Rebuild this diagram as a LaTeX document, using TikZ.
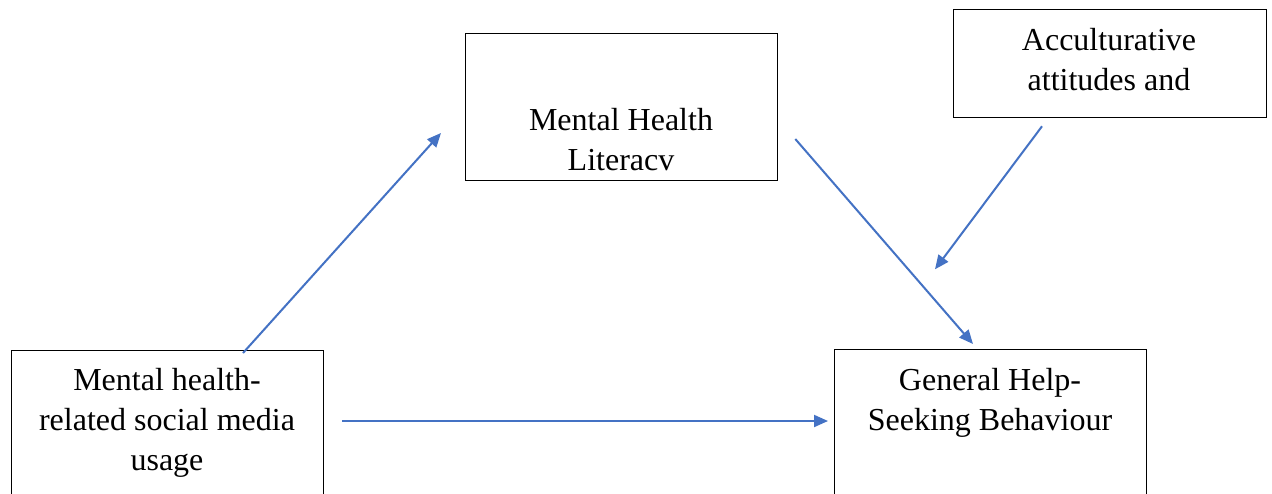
\documentclass[tikz,border=0pt]{standalone}
\usepackage{fontspec}
\setmainfont{Liberation Serif}
\usetikzlibrary{arrows.meta,calc}
\definecolor{arrblue}{HTML}{4472C4}
\begin{document}
\begin{tikzpicture}[x=1pt,y=-1pt,
  box/.style={draw=black, line width=1.3pt, fill=white, anchor=north west, inner sep=0pt},
  txt/.style={align=center, anchor=base, inner sep=0pt, font=\fontsize{32}{40}\selectfont},
  arr/.style={draw=arrblue, line width=2pt, -{Triangle[length=14pt,width=12pt]}}]
\useasboundingbox (0,0) rectangle (1272,493);
\clip (0,0) rectangle (1272,493);
\fill[white] (0,0) rectangle (1272,493);
% boxes
\node[box, minimum width=312pt, minimum height=170pt] (b1) at (11,350) {};
\node[box, minimum width=312pt, minimum height=147pt] (b2) at (465,33) {};
\node[box, minimum width=313pt, minimum height=108pt] (b3) at (953,9) {};
\node[box, minimum width=312pt, minimum height=170pt] (b4) at (834,349) {};
% texts (base anchor = baseline of last line)
\node[txt] (t1) at (167,470) {Mental health-\\related social media\\usage};
\node[txt] (t2) at (621,170) {Mental Health\\Literacv};
\node[txt] (t3) at (1109,90) {Acculturative\\attitudes and};
\node[txt] (t4) at (990,430) {General Help-\\Seeking Behaviour};
% connector ends
\coordinate (s1) at ($(b1.north west)+(232,3)$);
\coordinate (e1) at ($(b2.north west)+(-24,100)$);
\coordinate (s2) at ($(b2.north east)+(17,106)$);
\coordinate (e2) at ($(b4.north west)+(139,-5)$);
\coordinate (s3) at ($(b3.south west)+(89,8)$);
\coordinate (e3) at ($(b3.south west)+(-18,151)$);
\coordinate (s4) at ($(b1.north east)+(18,71)$);
\coordinate (e4) at ($(b4.north west)+(-6,72)$);
\draw[arr] (s1) -- (e1);
\draw[arr] (s2) -- (e2);
\draw[arr] (s3) -- (e3);
\draw[arr] (s4) -- (e4);
\end{tikzpicture}
\end{document}
